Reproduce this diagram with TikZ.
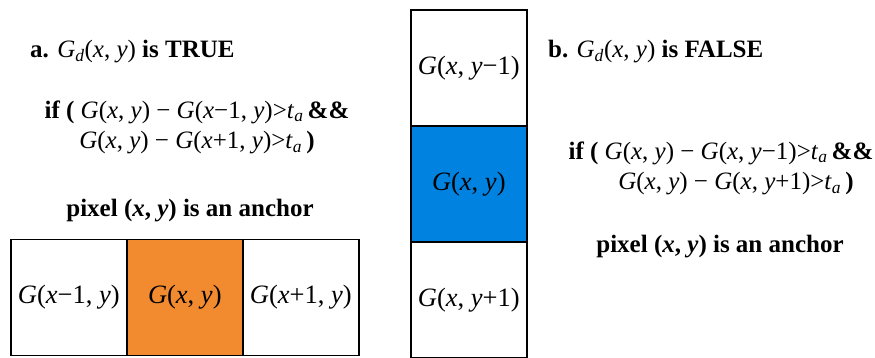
\documentclass[tikz,border=0pt]{standalone}
\usepackage{fontspec}
\setmainfont{Liberation Serif}
\newcommand\vi[1]{\textit{#1}}
\newcommand\ta{\vi{t}\textsubscript{\vi{a}}}
\newcommand\Gd{\vi{G}\textsubscript{\vi{d}}}
\definecolor{orangefill}{HTML}{F28A30}
\definecolor{bluefill}{HTML}{0083E0}
\begin{document}
\begin{tikzpicture}[x=1pt,y=-1pt,
  cell/.style={draw=black,line width=1.6pt,minimum width=116pt,minimum height=116pt,inner sep=0pt,anchor=north west,font=\fontsize{26.5}{30}\selectfont},
  txt/.style={inner sep=0pt,font=\fontsize{25}{30}\selectfont}]
\useasboundingbox (0,0) rectangle (875,357);
% left row
\node[cell] (l1) at (10,238.5) {\vi{G}(\vi{x}−1, \vi{y})};
\node[cell,fill=orangefill] (l2) at (126,238.5) {\vi{G}(\vi{x}, \vi{y})};
\node[cell] (l3) at (242,238.5) {\vi{G}(\vi{x}+1, \vi{y})};
% column
\node[cell] (c1) at (410,9) {\vi{G}(\vi{x}, \vi{y}−1)};
\node[cell,fill=bluefill] (c2) at (410,125) {\vi{G}(\vi{x}, \vi{y})};
\node[cell] (c3) at (410,241) {\vi{G}(\vi{x}, \vi{y}+1)};
% texts left
\node[txt,anchor=west] (ta) at (30,52) {\textbf{a.} \Gd(\vi{x}, \vi{y}) \textbf{is TRUE}};
\node[txt] (ta1) at (197,112) {\textbf{if (} \vi{G}(\vi{x}, \vi{y}) − \vi{G}(\vi{x}−1, \vi{y})>\ta\,\textbf{\&\&}};
\node[txt] (ta2) at (197,143) {\vi{G}(\vi{x}, \vi{y}) − \vi{G}(\vi{x}+1, \vi{y})>\ta\,\textbf{)}};
\node[txt] (ta3) at (190,211) {\textbf{pixel (\textit{x}, \textit{y}) is an anchor}};
% texts right
\node[txt,anchor=west] (tb) at (548,52) {\textbf{b.} \Gd(\vi{x}, \vi{y}) \textbf{is FALSE}};
\node[txt] (tb1) at (721,153) {\textbf{if (} \vi{G}(\vi{x}, \vi{y}) − \vi{G}(\vi{x}, \vi{y}−1)>\ta\,\textbf{\&\&}};
\node[txt] (tb2) at (736,184) {\vi{G}(\vi{x}, \vi{y}) − \vi{G}(\vi{x}, \vi{y}+1)>\ta\,\textbf{)}};
\node[txt] (tb3) at (720,247) {\textbf{pixel (\textit{x}, \textit{y}) is an anchor}};
\end{tikzpicture}
\end{document}
